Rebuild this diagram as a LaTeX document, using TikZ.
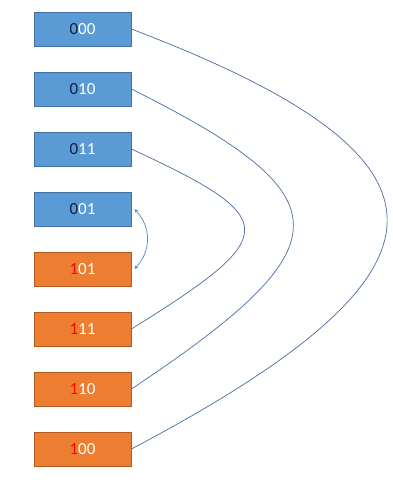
\documentclass[tikz,border=0pt]{standalone}
\usepackage{fontspec}
\setmainfont{Carlito}
\usepackage{xcolor}
\usetikzlibrary{arrows.meta}
\definecolor{cellblue}{RGB}{91,155,213}
\definecolor{cellblueline}{RGB}{65,113,156}
\definecolor{cellorange}{RGB}{237,125,49}
\definecolor{cellorangeline}{RGB}{174,90,33}
\definecolor{navybit}{RGB}{18,30,62}
\definecolor{linkblue}{RGB}{70,108,160}
\newcommand{\graybit}[1]{\textcolor{navybit}{#1}}
\newcommand{\redbit}[1]{\textcolor{red}{#1}}

\begin{document}
\begin{tikzpicture}[x=1pt, y=-1pt,
  cell/.style={draw, line width=0.8pt, minimum width=97pt, minimum height=34pt, inner sep=0pt,
    text=white, font=\fontsize{17}{20}\selectfont},
  bluecell/.style={cell, fill=cellblue, draw=cellblueline},
  orangecell/.style={cell, fill=cellorange, draw=cellorangeline},
  link/.style={linkblue, line width=0.7pt},
  swap/.style={{Stealth[length=4pt,width=3.5pt]}-{Stealth[length=4pt,width=3.5pt]}, cellblue!90!black, line width=0.7pt}
]
  \useasboundingbox (0,0) rectangle (392,480);

  % Upper half: leading bit 0
  \node[bluecell] (c000) at (82.5, 29) {\graybit{0}00};
  \node[bluecell] (c010) at (82.5, 89) {\graybit{0}10};
  \node[bluecell] (c011) at (82.5,149) {\graybit{0}11};
  \node[bluecell] (c001) at (82.5,209) {\graybit{0}01};

  % Lower half: leading bit 1
  \node[orangecell] (c101) at (82.5,269) {\redbit{1}01};
  \node[orangecell] (c111) at (82.5,329) {\redbit{1}11};
  \node[orangecell] (c110) at (82.5,389) {\redbit{1}10};
  \node[orangecell] (c100) at (82.5,449) {\redbit{1}00};

  % Nested reflection arcs
  \draw[link] (c000.east) .. controls +(341,130) and +(341,-180) .. (c100.east);
  \draw[link] (c010.east) .. controls +(216,108) and +(216,-144) .. (c110.east);
  \draw[link] (c011.east) .. controls +(151,70) and +(151,-94) .. (c111.east);

  % Innermost pair
  \draw[swap] ([xshift=3pt]c001.east) .. controls +(17,18) and +(17,-18) .. ([xshift=3pt]c101.east);
\end{tikzpicture}
\end{document}
